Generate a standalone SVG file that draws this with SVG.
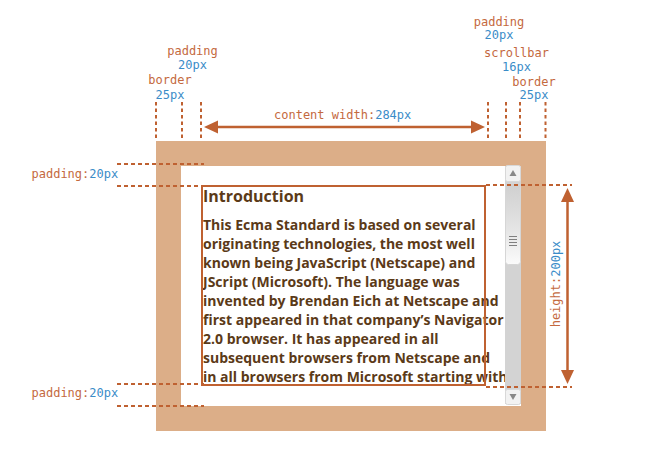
<svg xmlns="http://www.w3.org/2000/svg" width="663" height="462" viewBox="0 0 663 462">
<defs>
<style>
.lbl{font-family:"DejaVu Sans Mono","Liberation Mono",monospace;font-size:12px;fill:#c4693e}
.num{fill:#3a8cc8}
.dash{stroke:#bf6131;stroke-width:2;fill:none}
.dv{stroke-dasharray:3.5 3}
.dh{stroke-dasharray:4 3}
.body{font-family:"Open Sans","Noto Sans",sans-serif;font-size:14px;font-weight:700;fill:#5b3a18}
.title{font-size:16px;font-weight:700}
.arrow{fill:#bf6131}
</style>
<linearGradient id="thumb" x1="0" y1="0" x2="0" y2="1">
<stop offset="0" stop-color="#cfcfcf"/>
<stop offset="0.55" stop-color="#e4e4e4"/>
<stop offset="1" stop-color="#fbfbfb"/>
</linearGradient>
<clipPath id="clip"><rect x="181" y="166" width="324" height="240"/></clipPath>
</defs>
<rect width="663" height="462" fill="#fff"/>

<g id="box">
<rect x="156" y="141" width="390" height="290" fill="#dcae88"/>
<rect x="181" y="166" width="340" height="240" fill="#fff"/>
</g>

<g id="content">
<g clip-path="url(#clip)">
<text class="body title" x="203" y="202">Introduction</text>
<text class="body" x="203" y="230">This Ecma Standard is based on several</text>
<text class="body" x="203" y="249">originating technologies, the most well</text>
<text class="body" x="203" y="268">known being JavaScript (Netscape) and</text>
<text class="body" x="203" y="287">JScript (Microsoft). The language was</text>
<text class="body" x="203" y="306">invented by Brendan Eich at Netscape and</text>
<text class="body" x="203" y="325">first appeared in that company’s Navigator</text>
<text class="body" x="203" y="344">2.0 browser. It has appeared in all</text>
<text class="body" x="203" y="363">subsequent browsers from Netscape and</text>
<text class="body" x="203" y="382">in all browsers from Microsoft starting with</text>
</g>
<rect x="202" y="186" width="283" height="199" fill="none" stroke="#bf6131" stroke-width="2"/>
</g>

<g id="scrollbar">
<rect x="505" y="166" width="16" height="238" fill="#d3d3d3"/>
<rect x="505.5" y="165.5" width="15" height="16" rx="2" fill="#f2f2f2" stroke="#d8d8d8"/>
<polygon points="513,170 516.5,176 509.5,176" fill="#888"/>
<rect x="505.5" y="183.5" width="15" height="81" rx="3" fill="url(#thumb)" stroke="#d6d6d6"/>
<g stroke="#808080" stroke-width="1">
<line x1="509" y1="236.5" x2="517" y2="236.5"/>
<line x1="509" y1="239.5" x2="517" y2="239.5"/>
<line x1="509" y1="242.5" x2="517" y2="242.5"/>
<line x1="509" y1="245.5" x2="517" y2="245.5"/>
</g>
<rect x="505.5" y="389.5" width="15" height="15" rx="2" fill="#f2f2f2" stroke="#d8d8d8"/>
<polygon points="509.5,394 516.5,394 513,400" fill="#888"/>
</g>

<g id="connectors">
<g class="dash dv">
<line x1="156" y1="102" x2="156" y2="141"/>
<line x1="182" y1="102" x2="182" y2="141"/>
<line x1="201" y1="102" x2="201" y2="141"/>
<line x1="488" y1="102" x2="488" y2="141"/>
<line x1="506" y1="102" x2="506" y2="141"/>
<line x1="520" y1="102" x2="520" y2="141"/>
<line x1="545.5" y1="102" x2="545.5" y2="141"/>
</g>
<g class="dash dh">
<line x1="117" y1="164" x2="204" y2="164"/>
<line x1="117" y1="186" x2="204" y2="186"/>
<line x1="117" y1="384" x2="204" y2="384"/>
<line x1="117" y1="406" x2="204" y2="406"/>
<line x1="486" y1="185" x2="572" y2="185"/>
<line x1="486" y1="387" x2="572" y2="387"/>
</g>
<line x1="216" y1="127" x2="473" y2="127" stroke="#bf6131" stroke-width="2.5"/>
<polygon class="arrow" points="204,127 218,120.5 218,133.5"/>
<polygon class="arrow" points="485,127 471,120.5 471,133.5"/>
<line x1="567.5" y1="200" x2="567.5" y2="372" stroke="#bf6131" stroke-width="2.5"/>
<polygon class="arrow" points="567.5,188 561,202 574,202"/>
<polygon class="arrow" points="567.5,384 561,370 574,370"/>
</g>

<g id="labels" class="lbl">
<text x="192.5" y="55" text-anchor="middle">padding</text>
<text x="192.5" y="69" text-anchor="middle" class="num">20px</text>
<text x="170" y="84" text-anchor="middle">border</text>
<text x="170" y="98.5" text-anchor="middle" class="num">25px</text>
<text x="499" y="25.5" text-anchor="middle">padding</text>
<text x="499" y="39" text-anchor="middle" class="num">20px</text>
<text x="516.5" y="57" text-anchor="middle">scrollbar</text>
<text x="516.5" y="71" text-anchor="middle" class="num">16px</text>
<text x="534" y="85.5" text-anchor="middle">border</text>
<text x="534" y="99" text-anchor="middle" class="num">25px</text>
<text x="274" y="119">content width:<tspan class="num">284px</tspan></text>
<text x="31.5" y="178">padding:<tspan class="num">20px</tspan></text>
<text x="31.5" y="397">padding:<tspan class="num">20px</tspan></text>
<text transform="translate(559.5,284) rotate(-90)" text-anchor="middle">height:<tspan class="num">200px</tspan></text>
</g>
</svg>
